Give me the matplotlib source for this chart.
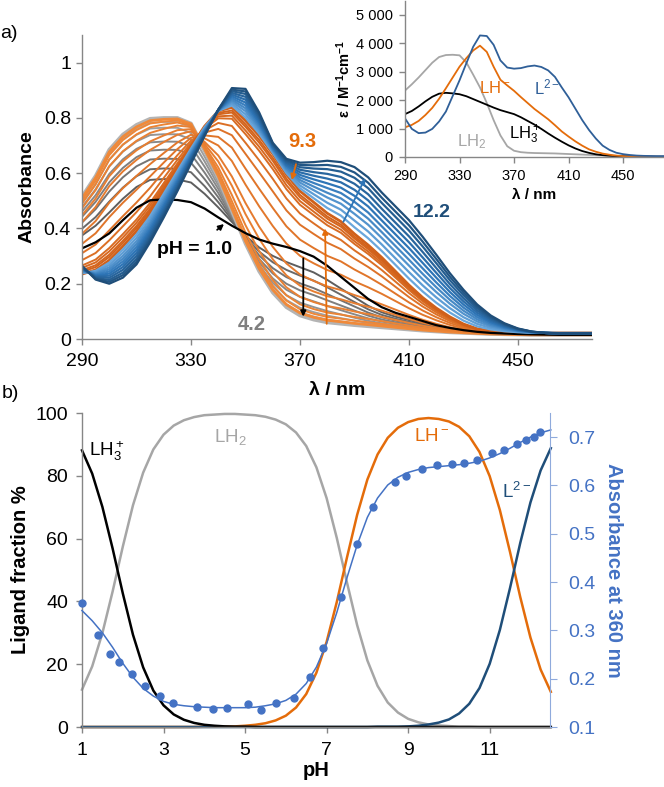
import numpy as np
import matplotlib
matplotlib.use('Agg')
import matplotlib.pyplot as plt
from matplotlib.colors import LinearSegmentedColormap

plt.rcParams['font.family'] = ['Liberation Sans', 'DejaVu Sans']
plt.rcParams['mathtext.fontset'] = 'custom'
plt.rcParams['mathtext.rm'] = 'Liberation Sans'
plt.rcParams['mathtext.it'] = 'Liberation Sans:italic'
plt.rcParams['mathtext.bf'] = 'Liberation Sans:bold'

# ── data ──────────────────────────────────────────────────────────────────────

WL = list(range(290, 485, 5))   # wavelength grid, nm

# inset: molar absorptivity of each species (M-1 cm-1)
EPS_LH3 = [1510, 1620, 1780, 1960, 2120, 2230, 2260, 2240, 2210, 2140,
           2040, 1940, 1840, 1740, 1650, 1580, 1510, 1400, 1270, 1140,
           990, 830, 680, 540, 410, 300, 210, 145, 95, 65,
           45, 32, 25, 20, 16, 13, 10, 10, 10]
EPS_LH2 = [2340, 2560, 2800, 3060, 3320, 3520, 3590, 3600, 3580, 3330,
           2900, 2450, 1900, 1300, 760, 380, 220, 170, 150, 140,
           135, 130, 125, 115, 105, 95, 85, 75, 65, 55,
           45, 35, 30, 25, 20, 15, 10, 10, 10]
EPS_LH = [1045, 1130, 1270, 1480, 1730, 2050, 2420, 2800, 3180, 3480,
          3750, 3920, 3700, 3180, 2720, 2520, 2330, 2110, 1900, 1690,
          1510, 1330, 1120, 900, 720, 550, 400, 270, 185, 120,
          80, 50, 30, 18, 12, 8, 6, 5, 5]
EPS_L = [1360, 990, 840, 860, 990, 1250, 1600, 2150, 2700, 3300,
         3880, 4280, 4260, 3950, 3400, 3150, 3110, 3130, 3190, 3220,
         3170, 3050, 2820, 2450, 2100, 1700, 1300, 950, 650, 400,
         250, 150, 100, 70, 50, 40, 35, 30, 30]

# panel a: absorbance of the end-point spectra of each titration stage
A_PH10 = [0.328, 0.350, 0.382, 0.430, 0.475, 0.502, 0.505, 0.503, 0.495, 0.472,
          0.440, 0.410, 0.383, 0.360, 0.345, 0.333, 0.318, 0.298, 0.265, 0.225,
          0.185, 0.145, 0.115, 0.095, 0.080, 0.065, 0.050, 0.040, 0.032, 0.026,
          0.022, 0.020, 0.018, 0.017, 0.016, 0.015, 0.015, 0.015, 0.015]
A_PH42 = [0.515, 0.590, 0.685, 0.740, 0.775, 0.797, 0.800, 0.800, 0.780, 0.685,
          0.585, 0.465, 0.345, 0.245, 0.168, 0.115, 0.085, 0.070, 0.060, 0.055,
          0.050, 0.046, 0.042, 0.038, 0.034, 0.030, 0.027, 0.024, 0.022, 0.020,
          0.018, 0.017, 0.016, 0.015, 0.015, 0.015, 0.015, 0.015, 0.015]
A_PH93 = [0.235, 0.250, 0.285, 0.335, 0.390, 0.455, 0.535, 0.615, 0.695, 0.770,
          0.825, 0.838, 0.790, 0.735, 0.670, 0.595, 0.535, 0.495, 0.455, 0.425,
          0.380, 0.340, 0.295, 0.245, 0.195, 0.150, 0.112, 0.080, 0.054, 0.037,
          0.029, 0.025, 0.023, 0.022, 0.022, 0.022, 0.022, 0.022, 0.022]
A_PH122 = [0.265, 0.215, 0.200, 0.222, 0.270, 0.350, 0.440, 0.535, 0.635, 0.735,
           0.830, 0.908, 0.905, 0.820, 0.710, 0.652, 0.638, 0.640, 0.645, 0.640,
           0.622, 0.585, 0.530, 0.480, 0.430, 0.370, 0.305, 0.238, 0.178, 0.125,
           0.085, 0.057, 0.038, 0.027, 0.022, 0.020, 0.020, 0.020, 0.020]

# fraction of the next species in each intermediate spectrum of a stage
MIX_ACID = [0.25, 0.38, 0.50, 0.61, 0.71, 0.80, 0.88, 0.95, 1.0]          # pH 1.0 -> 4.2
MIX_MID = [0.02, 0.05, 0.09, 0.15, 0.24, 0.33, 0.48, 0.61, 0.73, 0.82,
           0.89, 0.92, 0.95, 0.97, 1.0]                                   # pH 4.2 -> 9.3
MIX_BASE = [0.10, 0.20, 0.30, 0.39, 0.48, 0.57, 0.66, 0.75, 0.84, 0.92, 1.0]  # 9.3 -> 12.2

# panel b: speciation (%) on a pH grid
PH = [1.0, 1.25, 1.5, 1.75, 2.0, 2.25, 2.5, 2.75, 3.0, 3.25, 3.5, 3.75,
      4.0, 4.25, 4.5, 4.75, 5.0, 5.25, 5.5, 5.75, 6.0, 6.25, 6.5, 6.75,
      7.0, 7.25, 7.5, 7.75, 8.0, 8.25, 8.5, 8.75, 9.0, 9.25, 9.5, 9.75,
      10.0, 10.25, 10.5, 10.75, 11.0, 11.25, 11.5, 11.75, 12.0, 12.25, 12.5]
F_LH3 = [88.1, 80.7, 70.1, 56.9, 42.6, 29.4, 19.0, 11.6, 6.9, 4.0, 2.3, 1.3,
         0.7, 0.4, 0.2, 0.1, 0.1, 0.0, 0.0, 0.0, 0.0, 0.0, 0.0, 0.0,
         0.0, 0.0, 0.0, 0.0, 0.0, 0.0, 0.0, 0.0, 0.0, 0.0, 0.0, 0.0,
         0.0, 0.0, 0.0, 0.0, 0.0, 0.0, 0.0, 0.0, 0.0, 0.0, 0.0]
F_LH2 = [11.9, 19.3, 29.9, 43.1, 57.4, 70.6, 81.0, 88.4, 93.1, 96.0, 97.7, 98.7,
         99.3, 99.5, 99.7, 99.7, 99.5, 99.3, 98.8, 97.9, 96.4, 93.8, 89.5, 82.7,
         72.9, 60.2, 46.0, 32.4, 21.2, 13.1, 7.8, 4.6, 2.6, 1.5, 0.8, 0.5,
         0.3, 0.1, 0.1, 0.0, 0.0, 0.0, 0.0, 0.0, 0.0, 0.0, 0.0]
F_LH = [0.0, 0.0, 0.0, 0.0, 0.0, 0.0, 0.0, 0.0, 0.0, 0.0, 0.0, 0.0,
        0.1, 0.1, 0.1, 0.2, 0.4, 0.7, 1.2, 2.1, 3.6, 6.2, 10.5, 17.3,
        27.1, 39.8, 54.0, 67.6, 78.8, 86.8, 92.1, 95.3, 97.1, 98.1, 98.4, 98.1,
        97.3, 95.6, 92.6, 87.6, 79.9, 69.1, 55.7, 41.4, 28.5, 18.3, 11.2]
F_L = [0.0, 0.0, 0.0, 0.0, 0.0, 0.0, 0.0, 0.0, 0.0, 0.0, 0.0, 0.0,
       0.0, 0.0, 0.0, 0.0, 0.0, 0.0, 0.0, 0.0, 0.0, 0.0, 0.0, 0.0,
       0.0, 0.0, 0.0, 0.0, 0.0, 0.1, 0.1, 0.1, 0.2, 0.4, 0.8, 1.4,
       2.4, 4.3, 7.4, 12.4, 20.1, 30.9, 44.3, 58.6, 71.5, 81.7, 88.8]
A360_FIT = [0.341, 0.320, 0.295, 0.265, 0.232, 0.203, 0.180, 0.164, 0.153, 0.147, 0.144, 0.142,
            0.141, 0.140, 0.140, 0.140, 0.140, 0.141, 0.144, 0.148, 0.155, 0.168, 0.190, 0.224,
            0.273, 0.337, 0.409, 0.477, 0.534, 0.574, 0.601, 0.617, 0.627, 0.633, 0.637, 0.639,
            0.641, 0.643, 0.646, 0.650, 0.657, 0.666, 0.677, 0.689, 0.700, 0.709, 0.715]

PH_PTS = [1.0, 1.40, 1.69, 1.91, 2.23, 2.54, 2.91, 3.24, 3.83, 4.21, 4.56, 5.06,
          5.39, 5.77, 6.21, 6.60, 6.92, 7.35, 7.75, 8.15, 8.69, 8.95, 9.35, 9.70,
          10.07, 10.36, 10.69, 11.05, 11.36, 11.67, 11.90, 12.08, 12.24]
A360_PTS = [0.357, 0.290, 0.252, 0.234, 0.209, 0.185, 0.164, 0.150, 0.141, 0.137, 0.139, 0.147,
            0.135, 0.150, 0.159, 0.204, 0.264, 0.370, 0.479, 0.555, 0.607, 0.620, 0.634, 0.642,
            0.644, 0.647, 0.652, 0.667, 0.673, 0.685, 0.694, 0.701, 0.711]

# ── style ─────────────────────────────────────────────────────────────────────

SPINE = '#868686'
ORANGE = '#E46C0A'
NAVY = '#1F4E79'
LBLUE = '#4472C4'
LGRAY = '#A6A6A6'


def style_axes(ax, size, xpad=6, ypad=4):
    for s in ['top', 'right']:
        ax.spines[s].set_visible(False)
    for s in ['left', 'bottom']:
        ax.spines[s].set_color(SPINE)
        ax.spines[s].set_linewidth(1.0)
    ax.tick_params(direction='out', length=4, width=1.0, color=SPINE,
                   labelsize=size, labelcolor='black')
    ax.tick_params(axis='x', pad=xpad)
    ax.tick_params(axis='y', pad=ypad)


fig = plt.figure(figsize=(6.64, 7.87), dpi=100)

# ── panel a ───────────────────────────────────────────────────────────────────

ax = fig.add_axes([82 / 664, 1 - 339 / 787, 509.6 / 664, 304 / 787])
style_axes(ax, 14)
wl = np.array(WL)
a10, a42, a93, a122 = map(np.array, (A_PH10, A_PH42, A_PH93, A_PH122))

gray_cm = LinearSegmentedColormap.from_list('g', ['#5E5E5E', '#B4B4B4'])
orange_cm = LinearSegmentedColormap.from_list('o', ['#F08A3A', '#D0601A'])
blue_cm = LinearSegmentedColormap.from_list('b', ['#6AA7DC', '#2E75B6', NAVY])

# acid stage (grey), then the middle stage (orange), pH 1.0 on top, base stage (blue)
for i, t in enumerate(MIX_ACID):
    last = i == len(MIX_ACID) - 1
    ax.plot(wl, (1 - t) * a10 + t * a42, color=gray_cm(i / (len(MIX_ACID) - 1)),
            lw=2.6 if last else 1.4)
for i, t in enumerate(MIX_MID):
    edge = i == 0 or i == len(MIX_MID) - 1
    ax.plot(wl, (1 - t) * a42 + t * a93, color=orange_cm(i / (len(MIX_MID) - 1)),
            lw=2.0 if edge else 1.4)
ax.plot(wl, a10, color='black', lw=1.6)
for i, t in enumerate(MIX_BASE):
    ax.plot(wl, (1 - t) * a93 + t * a122, color=blue_cm(i / (len(MIX_BASE) - 1)),
            lw=1.6)

ax.set_xlim(290, 477)
ax.set_ylim(0, 1.1)
ax.set_xticks([290, 330, 370, 410, 450])
ax.set_yticks([0, 0.2, 0.4, 0.6, 0.8, 1.0])
ax.set_yticklabels(['0', '0.2', '0.4', '0.6', '0.8', '1'])
ax.set_ylabel('Absorbance', fontsize=14, fontweight='bold', labelpad=6)
ax.set_xlabel('λ / nm', fontsize=14, fontweight='bold', labelpad=9)

arrow = dict(arrowstyle='-|>', lw=1.3, mutation_scale=8, shrinkA=0, shrinkB=0)
ax.annotate('', xy=(371.2, 0.081), xytext=(371.2, 0.292),
            arrowprops=dict(arrow, color='black'))
ax.annotate('', xy=(379.2, 0.400), xytext=(379.8, 0.055),
            arrowprops=dict(arrow, color=ORANGE))
ax.annotate('', xy=(393.9, 0.581), xytext=(385.9, 0.424),
            arrowprops=dict(arrow, color='#2E75B6'))
ax.annotate('pH = 1.0', xy=(342.1, 0.416), xytext=(331.2, 0.325),
            fontsize=14, fontweight='bold', ha='center', va='center',
            arrowprops=dict(arrow, color='black', shrinkA=9))
ax.annotate('9.3', xy=(367.0, 0.575), xytext=(370.7, 0.716),
            fontsize=14.5, fontweight='bold', color=ORANGE, ha='center', va='center',
            arrowprops=dict(arrow, color=ORANGE, shrinkA=8))
ax.text(418.4, 0.456, '12.2', fontsize=14, fontweight='bold', color=NAVY,
        ha='center', va='center')
ax.text(352.4, 0.051, '4.2', fontsize=14.5, fontweight='bold', color='#7F7F7F',
        ha='center', va='center')
fig.text(9 / 664, 1 - 33 / 787, 'a)', fontsize=14, ha='center', va='center')

# ── inset ─────────────────────────────────────────────────────────────────────

ins = fig.add_axes([405 / 664, 1 - 157 / 787, 259 / 664, 156.2 / 787])
ins.patch.set_alpha(0)
style_axes(ins, 10.5, xpad=5, ypad=5)
ins.plot(WL, EPS_LH2, color=LGRAY, lw=1.3)
ins.plot(WL, EPS_LH3, color='black', lw=1.3)
ins.plot(WL, EPS_LH, color=ORANGE, lw=1.3)
ins.plot(WL, EPS_L, color='#2F5F98', lw=1.3)
ins.set_xlim(290, 480)
ins.set_ylim(0, 5500)
ins.set_xticks([290, 330, 370, 410, 450])
ins.set_yticks([0, 1000, 2000, 3000, 4000, 5000])
ins.set_yticklabels(['0', '1 000', '2 000', '3 000', '4 000', '5 000'])
ins.set_xlabel('λ / nm', fontsize=11, fontweight='bold', labelpad=3)
ins.set_ylabel(r'$\mathbf{ε\ /\ M^{-1}cm^{-1}}$', fontsize=10.5, labelpad=2)
ins.text(356, 2430, r'$\mathregular{LH^-}$', color=ORANGE, fontsize=12, ha='center', va='center')
ins.text(394, 2454, r'$\mathregular{L^{2-}}$', color='#2F5F98', fontsize=12, ha='center', va='center')
ins.text(339, 539, r'$\mathregular{LH_2}$', color=LGRAY, fontsize=12, ha='center', va='center')
ins.text(378, 775, r'$\mathregular{LH_3^+}$', color='black', fontsize=12, ha='center', va='center')

# ── panel b ───────────────────────────────────────────────────────────────────

bx = fig.add_axes([82 / 664, 1 - 727 / 787, 468 / 664, 314 / 787])
style_axes(bx, 14, xpad=7, ypad=6)
bx.plot(PH, F_LH2, color=LGRAY, lw=1.8, clip_on=False)
bx.plot(PH, F_LH, color=ORANGE, lw=1.8, clip_on=False)
bx.plot(PH, F_L, color=NAVY, lw=1.8, clip_on=False)
bx.plot(PH, F_LH3, color='black', lw=1.8, clip_on=False)
bx.set_xlim(1, 12.48)
bx.set_ylim(0, 100)
bx.set_xticks([1, 3, 5, 7, 9, 11])
bx.set_yticks([0, 20, 40, 60, 80, 100])
bx.set_xlabel('pH', fontsize=14.5, fontweight='bold', labelpad=1)
bx.set_ylabel('Ligand fraction %', fontsize=14.5, fontweight='bold', labelpad=4)
bx.text(1.6, 87.7, r'$\mathregular{LH_3^+}$', fontsize=13.5, ha='center', va='center')
bx.text(4.63, 92.5, r'$\mathregular{LH_2}$', fontsize=13.5, color=LGRAY, ha='center', va='center')
bx.text(9.58, 92.5, r'$\mathregular{LH^-}$', fontsize=13.5, color=ORANGE, ha='center', va='center')
bx.text(11.67, 75, r'$\mathregular{L^{2-}}$', fontsize=13.5, color=NAVY, ha='center', va='center')
fig.text(10 / 664, 1 - 393 / 787, 'b)', fontsize=14, ha='center', va='center')

bx2 = bx.twinx()
for s in ['top', 'left', 'bottom']:
    bx2.spines[s].set_visible(False)
bx2.spines['right'].set_color('#8FAADC')
bx2.plot(PH, A360_FIT, color=LBLUE, lw=1.1, clip_on=False)
bx2.plot(PH_PTS, A360_PTS, 'o', color=LBLUE, ms=5, clip_on=False)
bx2.set_ylim(0.1, 0.75)
bx2.set_yticks([0.1, 0.2, 0.3, 0.4, 0.5, 0.6, 0.7])
bx2.tick_params(direction='out', length=5, color='#8FAADC', labelsize=14,
                labelcolor=LBLUE, pad=8)
bx2.set_ylabel('Absorbance at 360 nm', fontsize=14.5, fontweight='bold',
               color=LBLUE, rotation=270, labelpad=20)

fig.savefig('out.png', dpi=100)
